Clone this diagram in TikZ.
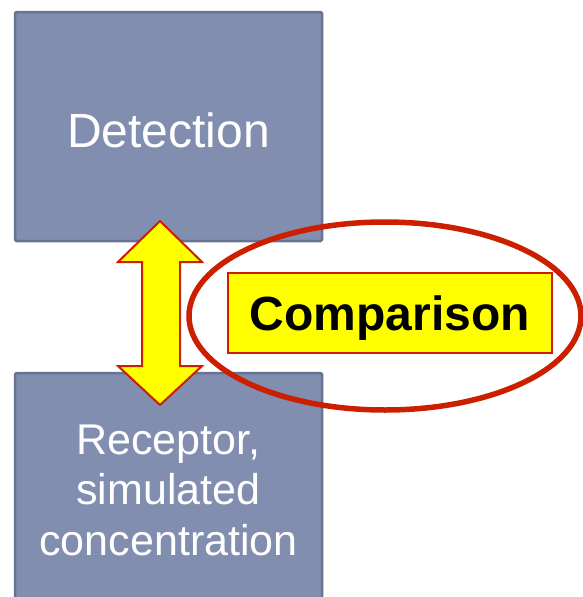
\documentclass[tikz,border=0pt]{standalone}
\usepackage{fontspec}
\setmainfont{Liberation Sans}
\usetikzlibrary{shapes.geometric}
\definecolor{boxfill}{HTML}{828EB0}
\definecolor{boxedge}{HTML}{687392}
\definecolor{ringred}{HTML}{CC1F00}
\definecolor{hiyellow}{HTML}{FFFF00}
\begin{document}
\begin{tikzpicture}[x=1pt,y=-1pt,
  box/.style={draw=boxedge, fill=boxfill, line width=2.5pt, rounded corners=1.5pt, minimum width=307pt, inner sep=0pt},
  boxtext/.style={text=white, font=\fontsize{48}{58}\selectfont, inner sep=0pt},
  smalltext/.style={text=white, font=\fontsize{43}{50.5}\selectfont, align=center, inner sep=0pt},
  badge/.style={draw=ringred, fill=hiyellow, line width=2pt, minimum width=324pt, minimum height=80pt, inner sep=0pt, text depth=0pt, font=\fontsize{48}{56}\selectfont\bfseries},
  ring/.style={draw=ringred, line width=5.5pt, ellipse, minimum width=392pt, minimum height=188pt, inner sep=0pt},
  dblarrow/.style={draw=ringred, fill=hiyellow, line width=2pt, line join=miter}
]
\useasboundingbox (0,0) rectangle (583,597);
\clip (0,0) rectangle (583,597);
\node[box, minimum height=229pt] (det) at (168.5,126.5) {};
\node[boxtext, anchor=base] (dettext) at (168.5,147) {Detection};
\node[box, minimum height=260pt] (rec) at (168.5,503) {};
\node[smalltext] (rectext) at (168.5,490) {Receptor,\\simulated\\concentration};
% double arrow
\draw[dblarrow] (160,221) -- (202,262) -- (180,262) -- (180,366) -- (202,366) -- (160,405)
  -- (118,366) -- (142,366) -- (142,262) -- (118,262) -- cycle;
\node[ring] (ring) at (385,316) {};
\node[badge] (cmp) at (390,313) {Comparison};
\end{tikzpicture}
\end{document}
